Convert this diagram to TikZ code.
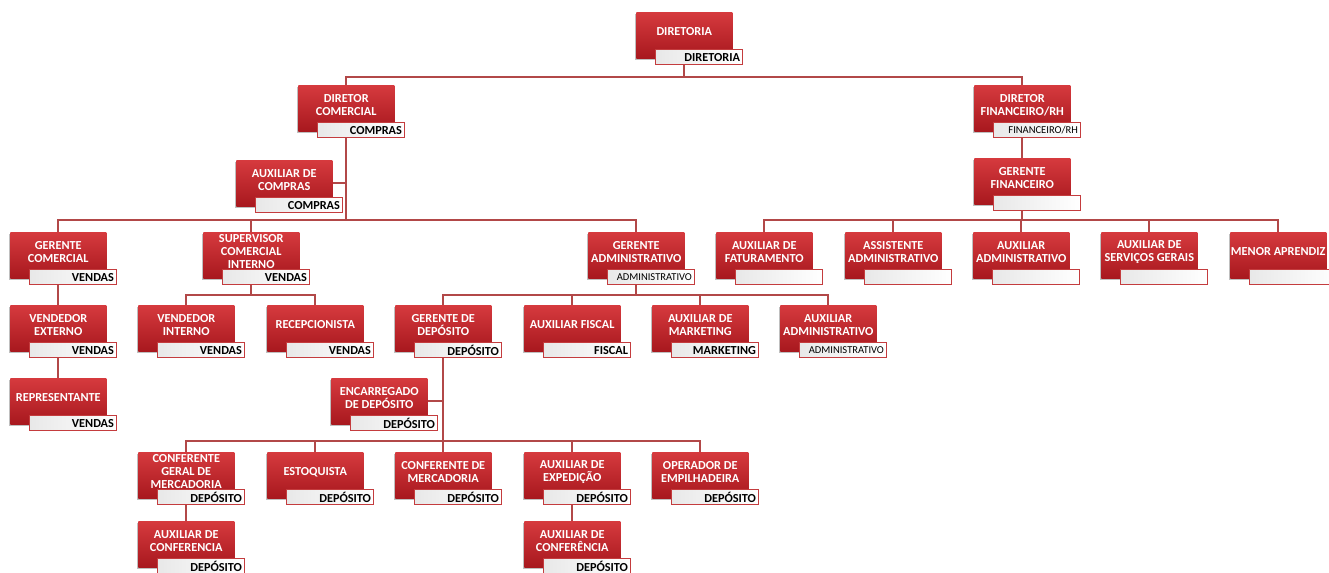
\documentclass[tikz,border=0pt]{standalone}
\usepackage{fontspec}
\setmainfont{Carlito}
\usetikzlibrary{calc,backgrounds,shadows}
\definecolor{redtop}{RGB}{214,58,62}
\definecolor{redbot}{RGB}{168,24,30}
\definecolor{wborder}{RGB}{196,60,62}
\definecolor{conn}{RGB}{178,72,72}
\tikzset{
  redbox/.style={anchor=north west, minimum width=72pt, minimum height=34.5pt, inner sep=0pt,
    top color=redtop, bottom color=redbot, draw=none,
    drop shadow={shadow xshift=-1.2pt, shadow yshift=-1.2pt, opacity=0.25, fill=black}},
  redtext/.style={text=white, align=center, inner sep=0pt, font=\fontsize{9.2}{9.75}\selectfont\bfseries},
  whitebox/.style={anchor=north west, minimum width=65pt, minimum height=11.25pt, inner sep=0pt,
    left color=black!9, right color=white, draw=wborder, line width=0.8pt},
  wtext/.style={anchor=east, inner sep=0pt, text=black, font=\fontsize{9.2}{10}\selectfont\bfseries},
  wsmall/.style={anchor=east, inner sep=0pt, text=black, font=\fontsize{7.9}{9}\selectfont},
  link/.style={draw=conn, line width=1.2pt}
}
\newcommand{\orgunit}[6]{%
  \node[redbox] (#1) at (#2,#3) {};
  \node[redtext] (#1-t) at ($(#1.north)+(0,20)$) {#4};
  \node[whitebox] (#1-w) at ($(#1.north west)+(19,37)$) {};
  \node[#6] (#1-l) at ($(#1-w.east)+(-2.5,0)$) {#5};
}
\begin{document}
\begin{tikzpicture}[x=0.75pt,y=-0.75pt]
\useasboundingbox (0,0) rectangle (1329,573);
\clip (0,0) rectangle (1329,573);
\orgunit{dir}{636}{12}{DIRETORIA}{DIRETORIA}{wtext}
\orgunit{dcom}{298}{85}{DIRETOR\\COMERCIAL}{COMPRAS}{wtext}
\orgunit{dfin}{974}{85}{DIRETOR\\FINANCEIRO/RH}{FINANCEIRO/RH}{wsmall}
\orgunit{auxc}{236}{160}{AUXILIAR DE\\COMPRAS}{COMPRAS}{wtext}
\orgunit{gfin}{974}{158}{GERENTE\\FINANCEIRO}{}{wtext}
\orgunit{gcom}{10}{232}{GERENTE\\COMERCIAL}{VENDAS}{wtext}
\orgunit{sup}{203}{232}{SUPERVISOR\\COMERCIAL\\INTERNO}{VENDAS}{wtext}
\orgunit{gadm}{588}{232}{GERENTE\\ADMINISTRATIVO}{ADMINISTRATIVO}{wsmall}
\orgunit{fat}{716}{232}{AUXILIAR DE\\FATURAMENTO}{}{wtext}
\orgunit{asa}{845}{232}{ASSISTENTE\\ADMINISTRATIVO}{}{wtext}
\orgunit{aad}{973}{232}{AUXILIAR\\ADMINISTRATIVO}{}{wtext}
\orgunit{asg}{1101}{232}{AUXILIAR DE\\SERVIÇOS GERAIS}{}{wtext}
\orgunit{mea}{1230}{232}{MENOR APRENDIZ}{}{wtext}
\orgunit{vext}{10}{305}{VENDEDOR\\EXTERNO}{VENDAS}{wtext}
\orgunit{vint}{138}{305}{VENDEDOR\\INTERNO}{VENDAS}{wtext}
\orgunit{rec}{267}{305}{RECEPCIONISTA}{VENDAS}{wtext}
\orgunit{gdep}{395}{305}{GERENTE DE\\DEPÓSITO}{DEPÓSITO}{wtext}
\orgunit{afis}{524}{305}{AUXILIAR FISCAL}{FISCAL}{wtext}
\orgunit{amkt}{652}{305}{AUXILIAR DE\\MARKETING}{MARKETING}{wtext}
\orgunit{aadm}{780}{305}{AUXILIAR\\ADMINISTRATIVO}{ADMINISTRATIVO}{wsmall}
\orgunit{rep}{10}{378}{REPRESENTANTE}{VENDAS}{wtext}
\orgunit{enc}{331}{378}{ENCARREGADO\\DE DEPÓSITO}{DEPÓSITO}{wtext}
\orgunit{cgm}{138}{452}{CONFERENTE\\GERAL DE\\MERCADORIA}{DEPÓSITO}{wtext}
\orgunit{est}{267}{452}{ESTOQUISTA}{DEPÓSITO}{wtext}
\orgunit{cme}{395}{452}{CONFERENTE DE\\MERCADORIA}{DEPÓSITO}{wtext}
\orgunit{aexp}{524}{452}{AUXILIAR DE\\EXPEDIÇÃO}{DEPÓSITO}{wtext}
\orgunit{oemp}{652}{452}{OPERADOR DE\\EMPILHADEIRA}{DEPÓSITO}{wtext}
\orgunit{acfa}{138}{521}{AUXILIAR DE\\CONFERENCIA}{DEPÓSITO}{wtext}
\orgunit{acfb}{524}{521}{AUXILIAR DE\\CONFERÊNCIA}{DEPÓSITO}{wtext}
\coordinate (b1) at (0,77);
\coordinate (b2) at (0,220);
\coordinate (b3) at (0,295);
\coordinate (b4) at (0,441);
\begin{scope}[on background layer]
  \fill[white] (0,0) rectangle (1329,573);
  \foreach \c in {dcom,dfin} {\draw[link] (dir.center) -- (dir.center |- b1) -| (\c.center);}
  \draw[link] (auxc.center) -- (auxc.center -| dcom.center);
  \draw[link] (enc.center) -- (enc.center -| gdep.center);
  \foreach \c in {gcom,sup,gadm} {\draw[link] (dcom.center) -- (dcom.center |- b2) -| (\c.center);}
  \draw[link] (dfin.center) -- (gfin.center);
  \foreach \c in {fat,asa,aad,asg,mea} {\draw[link] (gfin.center) -- (gfin.center |- b2) -| (\c.center);}
  \draw[link] (gcom.center) -- (vext.center);
  \draw[link] (vext.center) -- (rep.center);
  \foreach \c in {vint,rec} {\draw[link] (sup.center) -- (sup.center |- b3) -| (\c.center);}
  \foreach \c in {gdep,afis,amkt,aadm} {\draw[link] (gadm.center) -- (gadm.center |- b3) -| (\c.center);}
  \foreach \c in {cgm,est,cme,aexp,oemp} {\draw[link] (gdep.center) -- (gdep.center |- b4) -| (\c.center);}
  \draw[link] (cgm.center) -- (acfa.center);
  \draw[link] (aexp.center) -- (acfb.center);
\end{scope}
\end{tikzpicture}
\end{document}
